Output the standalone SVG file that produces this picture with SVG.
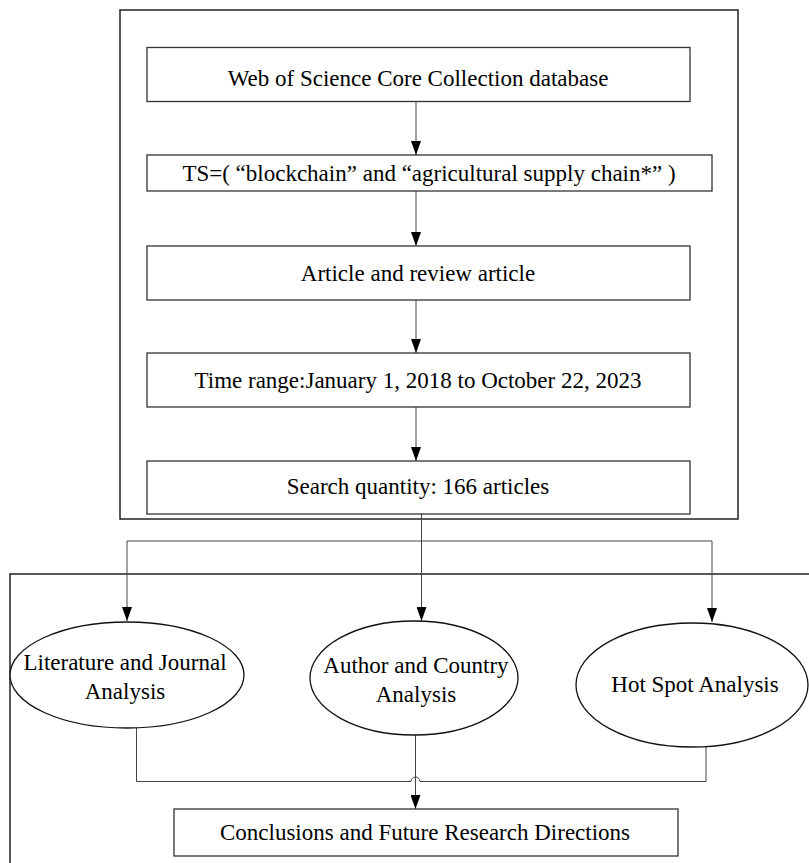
<svg xmlns="http://www.w3.org/2000/svg" width="809" height="863" viewBox="0 0 809 863">
<style>
.frame{fill:none;stroke:#222;stroke-width:1.5}
.box{fill:#fff;stroke:#333;stroke-width:1.3}
.ell{fill:#fff;stroke:#111;stroke-width:1.3}
.t{font-family:"Liberation Serif","Times New Roman",Times,serif;font-size:23px;fill:#000;text-anchor:middle}
.c{fill:none;stroke:#444;stroke-width:1}
</style>
<defs>
<marker id="ah" markerWidth="14" markerHeight="10" refX="14" refY="5" orient="auto" markerUnits="userSpaceOnUse" viewBox="0 0 14 10">
<path d="M0,0 L14,5 L0,10 Z" fill="#000"/>
</marker>
</defs>
<rect width="809" height="863" fill="#fff"/>
<rect class="frame" x="120" y="10" width="618" height="509"/>
<path class="frame" d="M10,863 L10,574 L809,574"/>
<g id="connectors">
<line class="c" x1="416" y1="101.5" x2="416" y2="155" marker-end="url(#ah)"/>
<line class="c" x1="416" y1="191" x2="416" y2="246" marker-end="url(#ah)"/>
<line class="c" x1="416" y1="300" x2="416" y2="353" marker-end="url(#ah)"/>
<line class="c" x1="416" y1="407" x2="416" y2="461" marker-end="url(#ah)"/>
<path class="c" d="M421.5,514 L421.5,541"/>
<path class="c" d="M127,541 L712,541"/>
<line class="c" x1="127" y1="541" x2="127" y2="621" marker-end="url(#ah)"/>
<line class="c" x1="421.5" y1="541" x2="421.5" y2="621" marker-end="url(#ah)"/>
<line class="c" x1="712" y1="541" x2="712" y2="622" marker-end="url(#ah)"/>
<path class="c" d="M136.5,723 L136.5,781.5 L411,781.5 A4.5,4.5 0 0 1 420,781.5 L706,781.5 L706,745"/>
<line class="c" x1="415.5" y1="735" x2="415.5" y2="809" marker-end="url(#ah)"/>
</g>
<g id="n1"><rect class="box" x="147" y="47.5" width="543" height="54"/><text class="t" x="418" y="86">Web of Science Core Collection database</text></g>
<g id="n2"><rect class="box" x="147" y="155" width="565" height="36"/><text class="t" x="429" y="180.5">TS=( “blockchain” and “agricultural supply chain*” )</text></g>
<g id="n3"><rect class="box" x="147" y="246" width="543" height="54"/><text class="t" x="418" y="281">Article and review article</text></g>
<g id="n4"><rect class="box" x="147" y="353" width="543" height="54"/><text class="t" x="418" y="388">Time range:January 1, 2018 to October 22, 2023</text></g>
<g id="n5"><rect class="box" x="147" y="461" width="543" height="53"/><text class="t" x="418" y="494">Search quantity: 166 articles</text></g>
<g id="e1"><ellipse class="ell" cx="127" cy="675" rx="117" ry="53"/><text class="t" x="125" y="670">Literature and Journal</text><text class="t" x="125" y="699">Analysis</text></g>
<g id="e2"><ellipse class="ell" cx="414" cy="678" rx="104" ry="57"/><text class="t" x="416" y="673">Author and Country</text><text class="t" x="416" y="702">Analysis</text></g>
<g id="e3"><ellipse class="ell" cx="692" cy="685" rx="116" ry="62"/><text class="t" x="695" y="692">Hot Spot Analysis</text></g>
<g id="n6"><rect class="box" x="174" y="809" width="504" height="47"/><text class="t" x="425" y="840">Conclusions and Future Research Directions</text></g>
</svg>
